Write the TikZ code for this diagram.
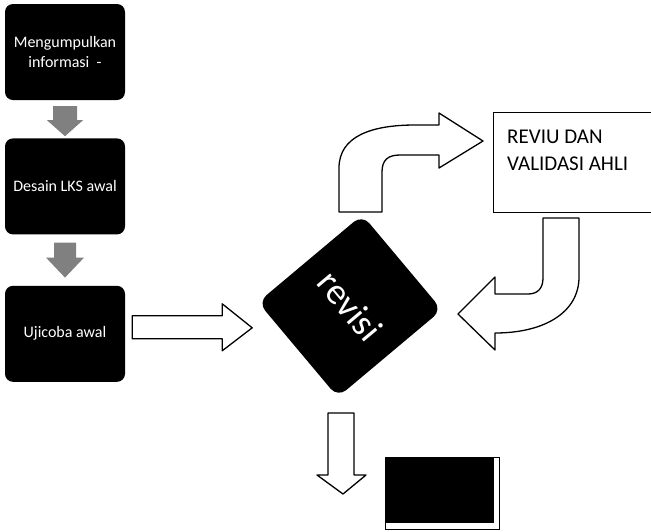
\documentclass[tikz,border=0pt]{standalone}
\usepackage{fontspec}
\setmainfont{Carlito}
\usetikzlibrary{positioning, calc}
\tikzset{tahap/.style = {
  % Rectangle:
  rectangle, rounded corners=8pt,
  fill=black, draw=none,
  minimum width=120pt, minimum height=96pt,
  % Text
  text=white, align=center,
  font=\fontsize{16}{20}\selectfont
  }}
\tikzset{panahabu/.style = {
  draw=none,
  fill=black!50
  }}
\tikzset{panahputih/.style = {
  fill=white, draw=black,
  line width=1.3pt, line join=round
  }}

\begin{document}
\begin{tikzpicture}[x=1pt, y=-1pt]
\useasboundingbox (0,0) rectangle (651,531);

% NODES
\node (info) [tahap] at (65,52) {Mengumpulkan\\informasi\ \ -};
\node (desain) [tahap, below=38pt of info] {Desain LKS awal};
\node (ujicoba) [tahap, below=51pt of desain] {Ujicoba awal};

\node (revisi) [tahap, rotate=-50, minimum width=124pt, minimum height=136pt,
  rounded corners=11pt, font=\fontsize{37}{44}\selectfont] at (350,306) {revisi};

\node (reviu) [draw, line width=1.3pt, anchor=north west,
  minimum width=170pt, minimum height=100pt,
  label={[anchor=north west, align=left, inner xsep=14pt, inner ysep=18pt,
    font=\fontsize{21}{27}\selectfont]north west:REVIU DAN\\VALIDASI AHLI}] at (493,112) {};

\node (hasil) [fill=black, minimum width=109pt, minimum height=66pt] at (439.5,490) {};
\draw [thin] (hasil.north west) rectangle ($(hasil.south east)+(5,6)$);

% arrows
\draw [panahabu] ($(info.south)+(-12,6)$) -- ++(24,0) -- ++(0,14) -- ++(6,0)
  -- ++(-18,16) -- ++(-18,-16) -- ++(6,0) -- cycle;
\draw [panahabu] ($(desain.south)+(-11,8)$) -- ++(22,0) -- ++(0,15) -- ++(8,0)
  -- ++(-19,20) -- ++(-19,-20) -- ++(8,0) -- cycle;

\draw [panahputih] ($(ujicoba.east)+(7,-18)$) -- ++(90,0) -- ++(0,-12) -- ++(30,24)
  -- ++(-30,23) -- ++(0,-12) -- ++(-90,0) -- cycle;
\draw [panahputih] ($(revisi.center)+(-22,107)$) -- ++(26,0) -- ++(0,62) -- ++(12,0)
  -- ++(-23,19) -- ++(-26,-19) -- ++(11,0) -- cycle;

\draw [panahputih] (339,212) -- (339,168) .. controls (339,136) and (372,125) .. (415,125)
  -- (439,125) -- (439,113) -- (483,141) -- (439,168) -- (439,155) -- (400,155)
  .. controls (388,155) and (382,160) .. (382,172) -- (382,212) -- cycle;

\draw [panahputih] (543,218) -- (579,218) -- (579,277) .. controls (579,312) and (545,333) .. (495,333)
  -- (495,350) -- (458,314) -- (495,277) -- (495,294) -- (528,294)
  .. controls (538,294) and (543,288) .. (543,278) -- cycle;
\end{tikzpicture}
\end{document}
